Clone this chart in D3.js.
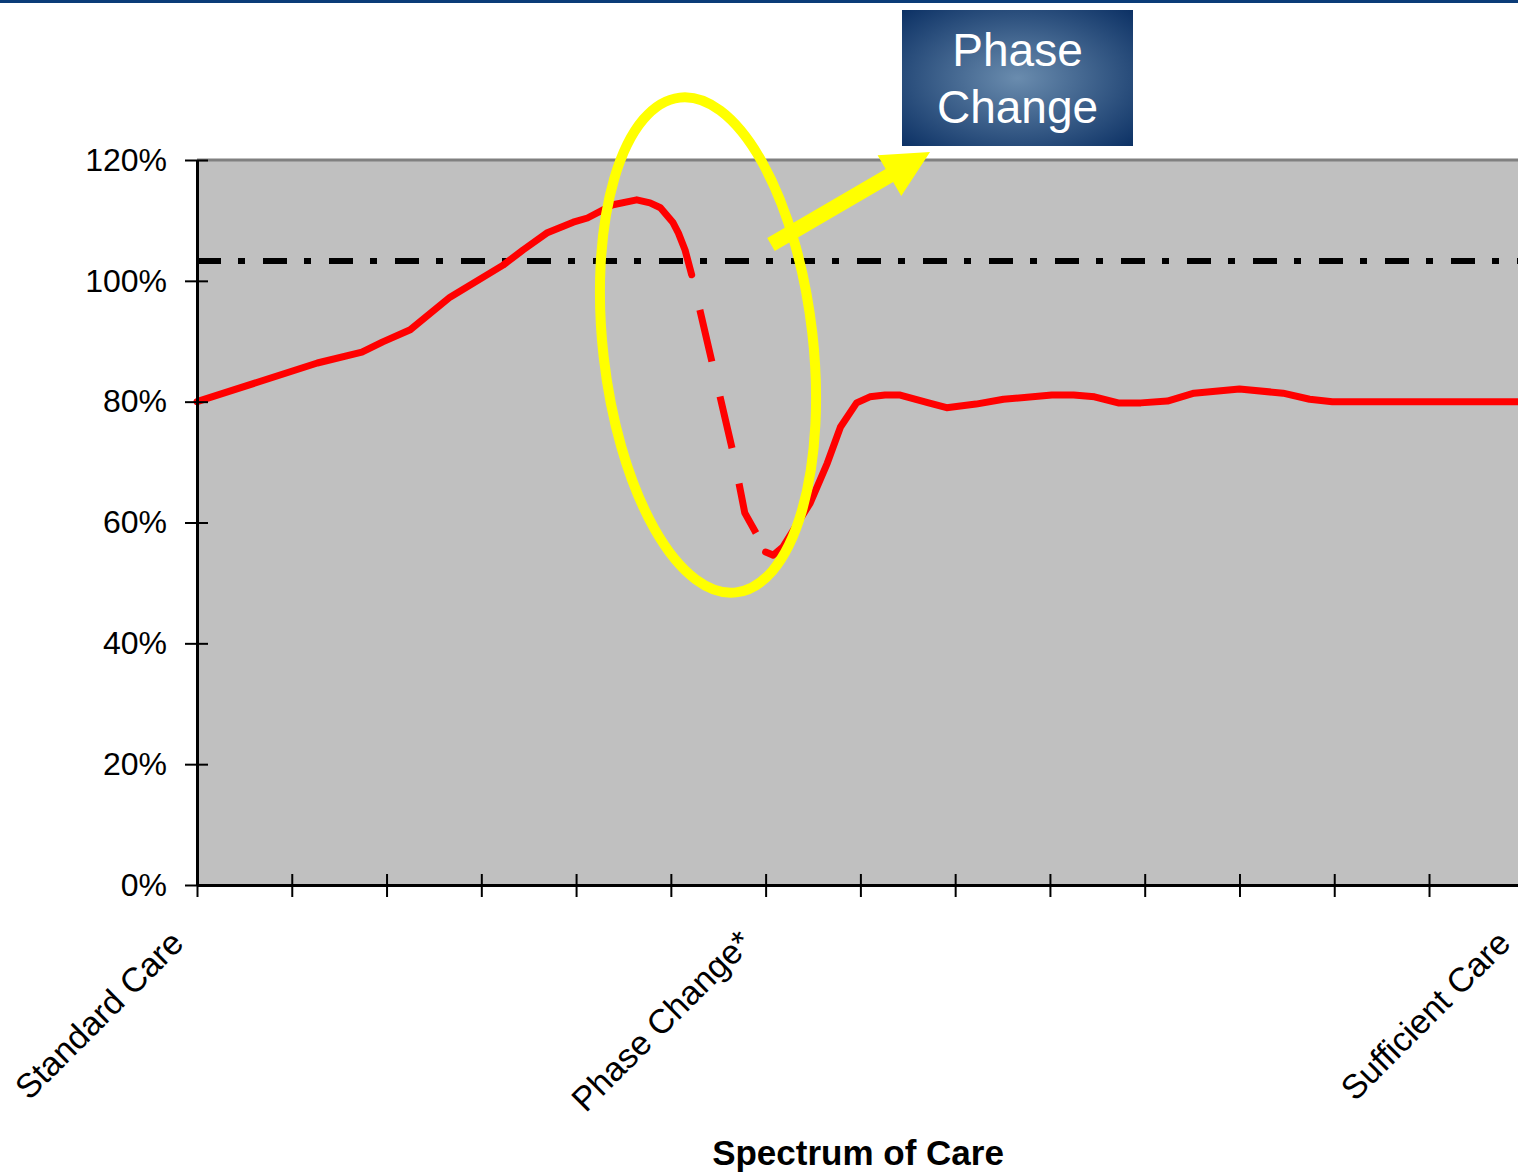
<!DOCTYPE html>
<html>
<head>
<meta charset="utf-8">
<script src="https://cdn.jsdelivr.net/npm/d3@7"></script>
<style>
    body { margin: 0; background: #fff; }
    svg { display: block; }
</style>
</head>
<body>
<div id="wrapper"></div>
<script>
// categories on the x axis (only three of them are labelled)
const categories = ["Standard Care", "", "", "", "", "", "Phase Change*", "", "", "", "", "", "", "", "Sufficient Care"]
const yTicks = [0, 20, 40, 60, 80, 100, 120]

// care curve, x in category steps, y in percent
const stepIndex = [0, 1.27, 1.74, 1.96, 2.25, 2.67, 3.23, 3.44, 3.69, 3.97, 4.12, 4.39, 4.64, 4.78, 4.89, 5.02, 5.08, 5.15, 5.22, 5.65, 5.78, 5.94, 6.0, 6.08, 6.18, 6.47, 6.65, 6.79, 6.96, 7.10, 7.26, 7.42, 7.72, 7.91, 8.22, 8.51, 9.02, 9.25, 9.47, 9.72, 9.96, 10.24, 10.52, 11.0, 11.46, 11.74, 11.98, 14]
const careLevel = [80, 86.4, 88.2, 89.9, 91.9, 97.3, 102.6, 105.1, 107.9, 109.7, 110.4, 112.6, 113.4, 112.9, 112.1, 109.7, 107.9, 105.1, 101.0, 72.0, 61.6, 57.1, 55.1, 54.6, 55.9, 63.2, 69.8, 75.8, 79.8, 80.8, 81.1, 81.1, 79.8, 79.0, 79.6, 80.4, 81.1, 81.1, 80.8, 79.8, 79.8, 80.1, 81.4, 82.1, 81.4, 80.4, 80, 80]
// the phase change part is drawn dashed
const phaseFrom = 18
const phaseTo = 22

// dash-dot limit line
const limitSteps = [0, 14]
const limitLevel = [103.3, 103.3]

let dimensions = {
    width: 1518,
    height: 1173,
    margin: {
        top: 160,
        left: 197,
    },
}
dimensions.boundedWidth = 14 * 94.77
dimensions.boundedHeight = 725

const wrapper = d3.select("#wrapper")
    .append("svg")
    .attr("width", dimensions.width)
    .attr("height", dimensions.height)
    .style("font-family", "Arial, 'Liberation Sans', sans-serif")

const defs = wrapper.append("defs")
const grad = defs.append("radialGradient")
    .attr("id", "boxGrad")
    .attr("cx", "50%").attr("cy", "50%").attr("r", "72%")
grad.append("stop").attr("offset", "0%").attr("stop-color", "#6a8cae")
grad.append("stop").attr("offset", "100%").attr("stop-color", "#0a2f63")

// blue rule on top of the page
wrapper.append("rect")
    .attr("x", 0).attr("y", 0)
    .attr("width", dimensions.width).attr("height", 3)
    .attr("fill", "#0b3c78")

const bounds = wrapper.append("g")
    .attr("transform", `translate(${dimensions.margin.left}, ${dimensions.margin.top})`)

const xScale = d3.scaleLinear()
    .domain([0, 14])
    .range([0, dimensions.boundedWidth])

const yScale = d3.scaleLinear()
    .domain([0, 120])
    .range([dimensions.boundedHeight, 0])

// plot area
bounds.append("rect")
    .attr("width", dimensions.boundedWidth)
    .attr("height", dimensions.boundedHeight)
    .attr("fill", "#c0c0c0")
bounds.append("line")
    .attr("x1", 0).attr("x2", dimensions.boundedWidth)
    .attr("y1", 0).attr("y2", 0)
    .attr("stroke", "#808080")
    .attr("stroke-width", 3)

const line = d3.line()
    .x(i => xScale(stepIndex[i]))
    .y(i => yScale(careLevel[i]))

const limitLine = d3.line()
    .x((d, i) => xScale(limitSteps[i]))
    .y(d => yScale(d))

bounds.append("path")
    .attr("d", limitLine(limitLevel))
    .attr("fill", "none")
    .attr("stroke", "#000")
    .attr("stroke-width", 6)
    .attr("stroke-dasharray", "24,17,7,18")

const idx = d3.range(stepIndex.length)
const parts = [
    { ids: idx.slice(0, phaseFrom + 1), dashed: false },
    { ids: idx.slice(phaseFrom, phaseTo + 1), dashed: true },
    { ids: idx.slice(phaseTo), dashed: false },
]
bounds.selectAll(".care")
    .data(parts)
    .join("path")
    .attr("class", "care")
    .attr("d", d => line(d.ids))
    .attr("fill", "none")
    .attr("stroke", "#ff0000")
    .attr("stroke-width", 7)
    .attr("stroke-linejoin", "round")
    .attr("stroke-linecap", d => d.dashed ? "butt" : "round")
    .attr("stroke-dasharray", d => d.dashed ? "53,36" : null)
    .attr("stroke-dashoffset", d => d.dashed ? 53 : null)

// axes
const yAxis = bounds.append("g")
    .call(d3.axisLeft(yScale)
        .tickValues(yTicks)
        .tickFormat(d => d + "%")
        .tickSize(12)
        .tickSizeOuter(0)
        .tickPadding(18))
yAxis.attr("font-size", 32).attr("font-family", null)
yAxis.select(".domain").attr("stroke-width", 3)
yAxis.selectAll(".tick line").attr("x1", 11).attr("stroke-width", 2)
yAxis.selectAll(".tick text").attr("fill", "#000")

const xAxis = bounds.append("g")
    .attr("transform", `translate(0, ${dimensions.boundedHeight})`)
    .call(d3.axisBottom(xScale)
        .tickValues(d3.range(categories.length))
        .tickFormat(i => categories[i])
        .tickSize(12)
        .tickSizeOuter(0))
xAxis.attr("font-size", 34).attr("font-family", null)
xAxis.select(".domain").attr("stroke-width", 3)
xAxis.selectAll(".tick line").attr("y1", -11).attr("stroke-width", 2)
xAxis.selectAll(".tick text")
    .attr("x", 0).attr("y", 0).attr("dy", 0)
    .attr("text-anchor", "end")
    .attr("fill", "#000")
    .attr("transform", "translate(-12, 60) rotate(-45)")

wrapper.append("text")
    .attr("x", dimensions.margin.left + 661)
    .attr("y", 1165)
    .attr("text-anchor", "middle")
    .attr("font-size", 35)
    .attr("font-weight", "bold")
    .text("Spectrum of Care")

// annotation: ellipse round the drop
wrapper.append("ellipse")
    .attr("transform", "translate(708, 345) rotate(-6.5)")
    .attr("rx", 105)
    .attr("ry", 249)
    .attr("fill", "none")
    .attr("stroke", "#ffff00")
    .attr("stroke-width", 10)

// arrow towards the box
const arrowLen = 184
const headLen = 47
wrapper.append("path")
    .attr("transform", "translate(771, 244.5) rotate(-30.2)")
    .attr("d", `M0,-7.5 L${arrowLen - headLen},-7.5 L${arrowLen - headLen},-23.5 L${arrowLen},0 L${arrowLen - headLen},23.5 L${arrowLen - headLen},7.5 L0,7.5 Z`)
    .attr("fill", "#ffff00")

// box
wrapper.append("rect")
    .attr("x", 902).attr("y", 10)
    .attr("width", 231).attr("height", 136)
    .attr("fill", "url(#boxGrad)")
wrapper.selectAll(".boxText")
    .data(["Phase", "Change"])
    .join("text")
    .attr("class", "boxText")
    .attr("x", 1017.5)
    .attr("y", (d, i) => 66 + i * 57)
    .attr("text-anchor", "middle")
    .attr("font-size", 46)
    .attr("fill", "#fff")
    .text(d => d)
</script>
</body>
</html>
